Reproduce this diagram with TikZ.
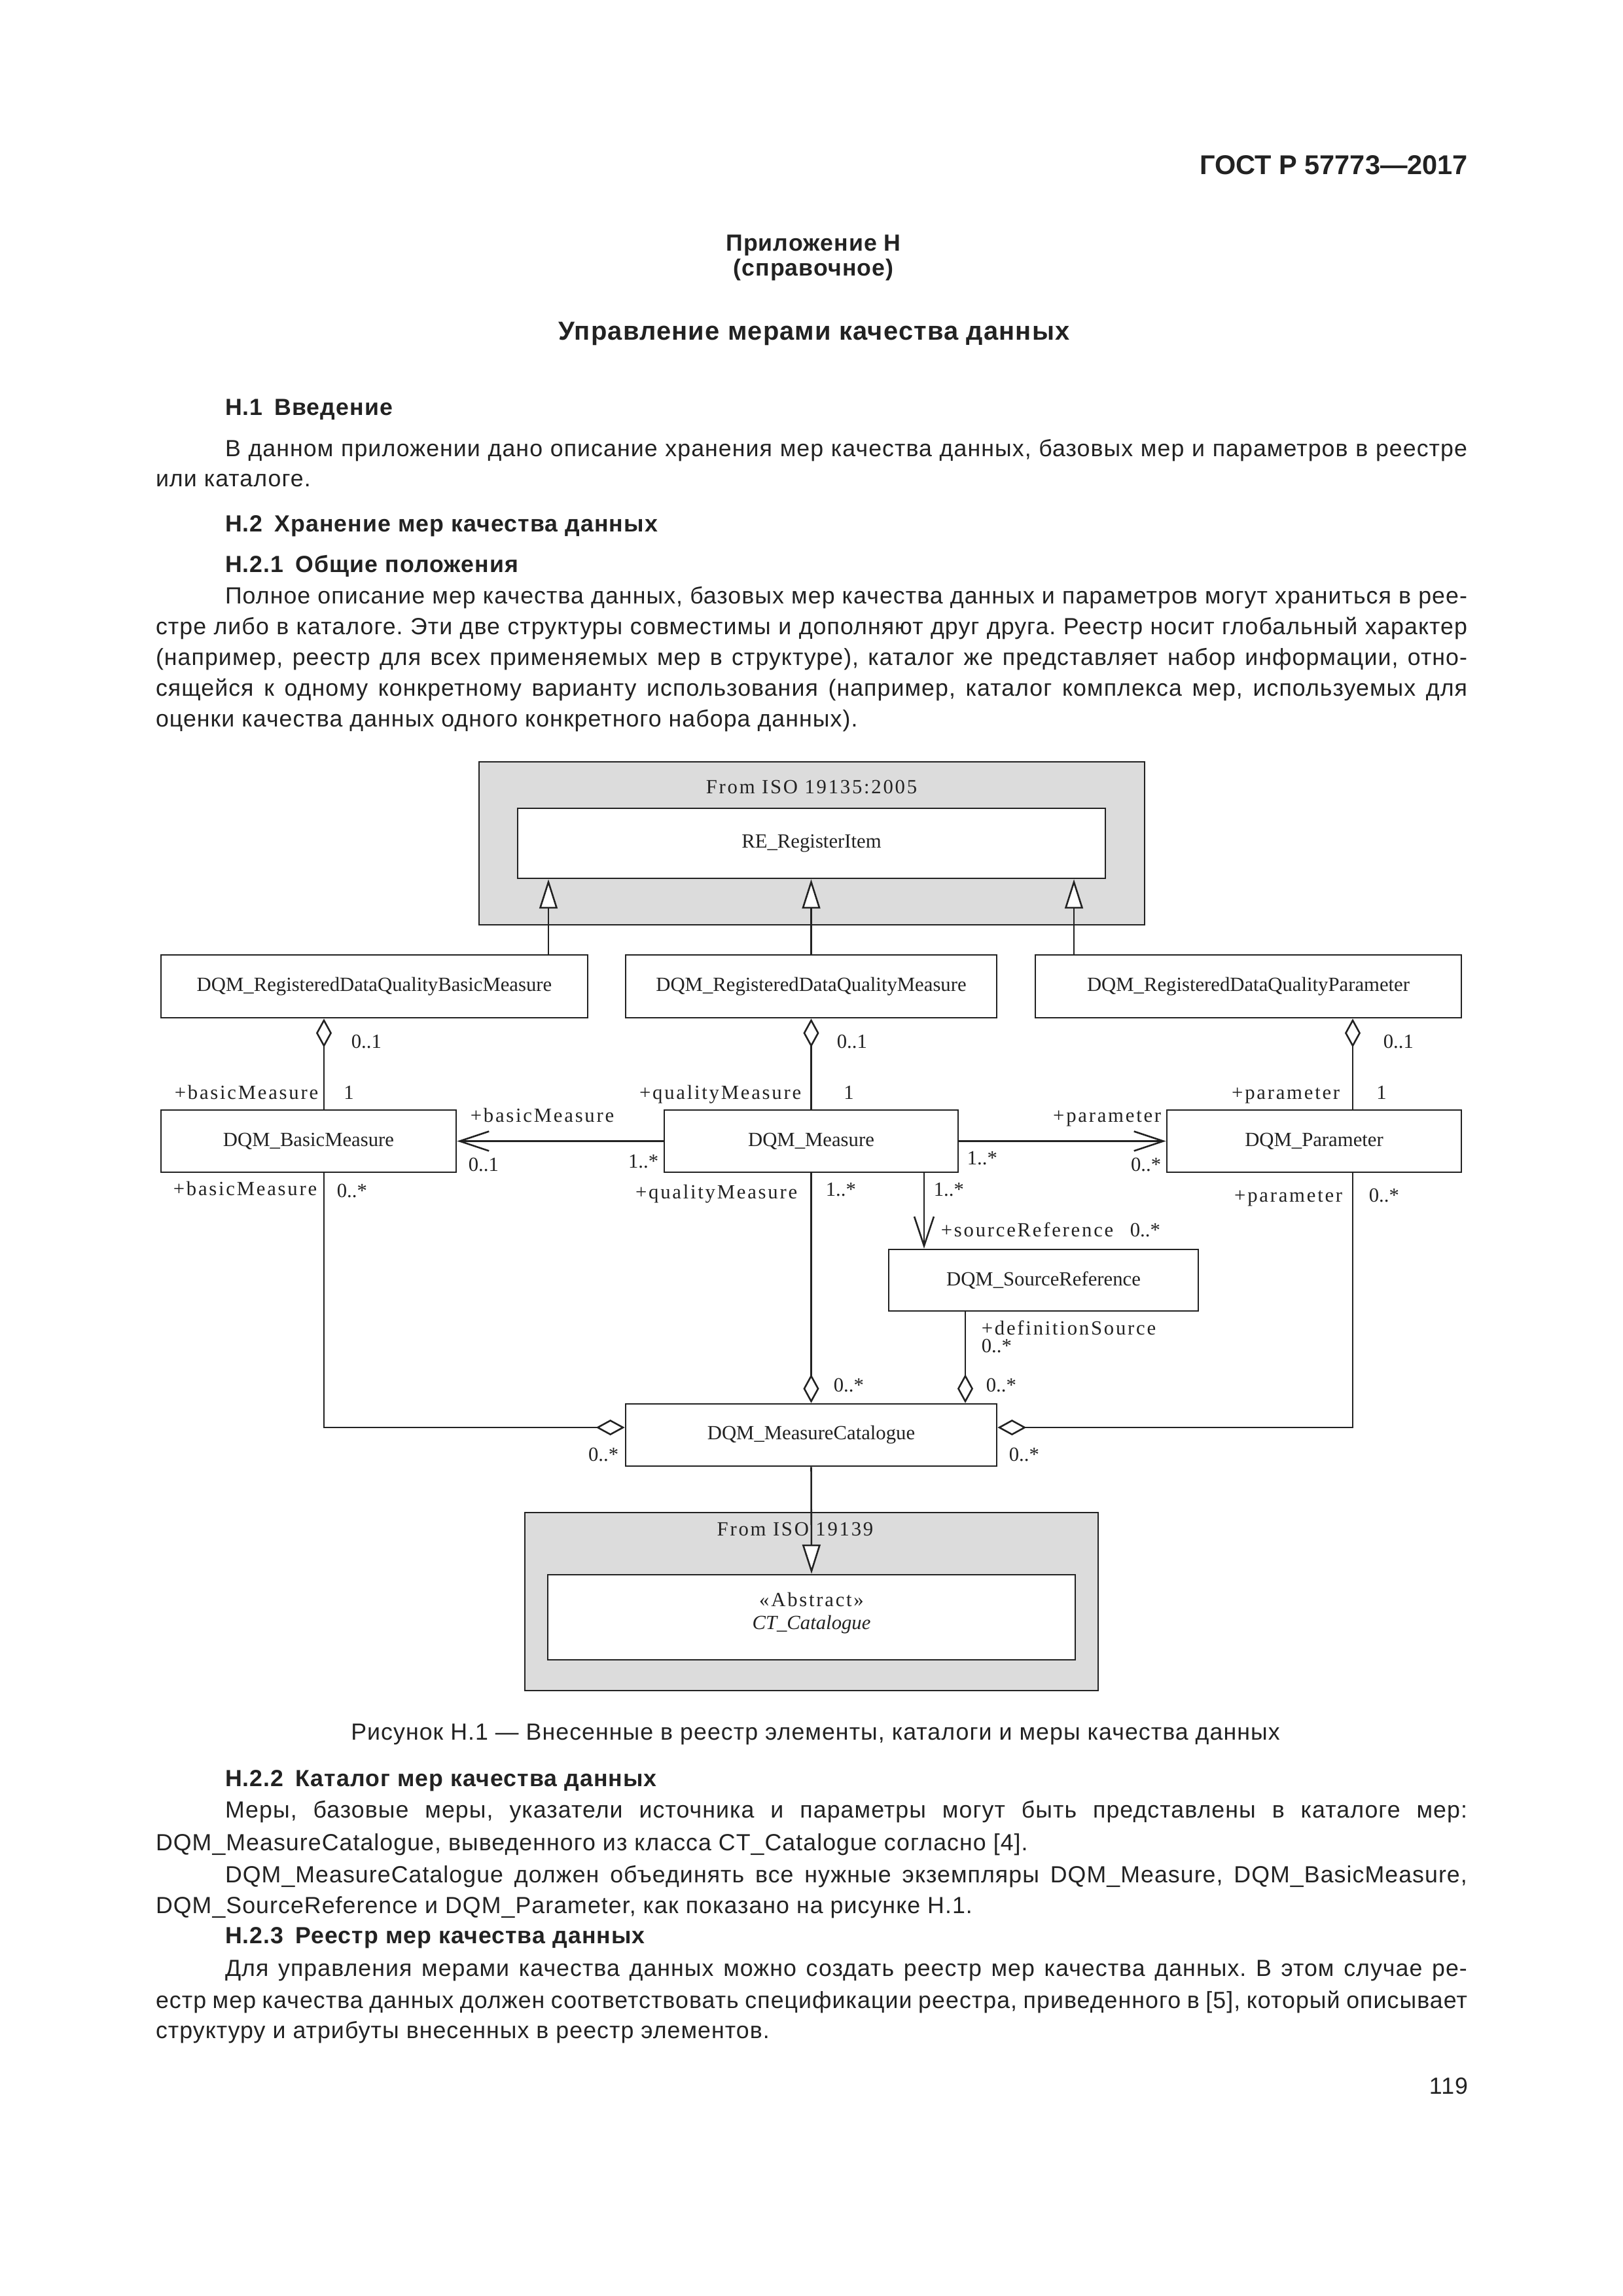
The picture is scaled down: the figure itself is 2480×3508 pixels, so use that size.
\documentclass[tikz,border=0pt]{standalone}
\usepackage{fontspec}
\usetikzlibrary{arrows.meta,calc}
\setmainfont{Liberation Sans}
\newfontfamily\bodyfont{Liberation Sans}[LetterSpace=3]
\newfontfamily\dgfont{Liberation Serif}
\newfontfamily\dgsp{Liberation Serif}[LetterSpace=9]
\newdimen\px \px=0.0846774mm
\newcommand\bodysize{\fontsize{8.6}{10.3}\selectfont}
\newcommand\dgsize{\fontsize{7.4}{9}\selectfont}
\definecolor{boxgray}{HTML}{DCDCDC}
\definecolor{ink}{HTML}{222222}
\frenchspacing
\tikzset{
  txt/.style={inner sep=0pt, outer sep=0pt, text=ink, font=\bodyfont\bodysize\frenchspacing},
  ln/.style={txt, anchor=base west},
  hd/.style={txt, anchor=base west, font=\bodyfont\bodysize\bfseries},
  cls/.style={draw=ink, line width=0.65pt, fill=white, inner sep=0pt, font=\dgfont\dgsize, text=ink},
  pkg/.style={draw=ink, line width=0.65pt, fill=boxgray, inner sep=0pt},
  role/.style={inner sep=0pt, font=\dgsp\dgsize, text=ink, text height=4.6pt, text depth=0pt},
  mult/.style={inner sep=0pt, font=\dgfont\dgsize, text=ink, text height=4.6pt, text depth=0pt},
  conn/.style={draw=ink, line width=0.62pt},
  agg/.style={conn, {Diamond[fill=white,length=10.6pt,width=5.8pt]}-},
  gen/.style={conn, -{Triangle[fill=white,length=10.8pt,width=6.7pt]}},
  nav/.style={conn, -{Straight Barb[length=10.8pt,width=7.2pt]}}
}
\begin{document}
\frenchspacing
\begin{tikzpicture}[x=0.0846774mm, y=-0.0846774mm]
\path[use as bounding box, fill=white] (0,0) rectangle (2480,3508);

% ---------- upper text ----------
\node[txt, anchor=base east, font=\fontsize{10}{12}\selectfont\bfseries] (gost) at (2243,266) {ГОСТ Р 57773—2017};
\node[txt, anchor=base, font=\bodyfont\bodysize\bfseries] (app) at (1243,383) {Приложение Н};
\node[txt, anchor=base, font=\bodyfont\bodysize\bfseries] (ref) at (1243,421) {(справочное)};
\node[txt, anchor=base, font=\bodyfont\fontsize{9.6}{12}\selectfont\bfseries] (title) at (1244,519) {Управление мерами качества данных};
\node[hd] (h1) at (344,634) {Н.1\enspace Введение};
\node[ln] (p1a) at (344,697) {\makebox[1898\px][s]{В данном приложении дано описание хранения мер качества данных, базовых мер и параметров в реестре}};
\node[ln] (p1b) at (238,743) {или каталоге.};
\node[hd] (h2) at (344,812) {Н.2\enspace Хранение мер качества данных};
\node[hd] (h21) at (344,874) {Н.2.1\enspace Общие положения};
\node[ln] (p2a) at (344,922) {\makebox[1898\px][s]{Полное описание мер качества данных, базовых мер качества данных и параметров могут храниться в рее-}};
\node[ln] (p2b) at (238,969) {\makebox[2004\px][s]{стре либо в каталоге. Эти две структуры совместимы и дополняют друг друга. Реестр носит глобальный характер}};
\node[ln] (p2c) at (238,1016) {\makebox[2004\px][s]{(например, реестр для всех применяемых мер в структуре), каталог же представляет набор информации, отно-}};
\node[ln] (p2d) at (238,1063) {\makebox[2004\px][s]{сящейся к одному конкретному варианту использования (например, каталог комплекса мер, используемых для}};
\node[ln] (p2e) at (238,1110) {оценки качества данных одного конкретного набора данных).};

% ---------- diagram nodes ----------
\node[pkg, minimum width=1017\px, minimum height=249\px] (pk1) at (1240.5,1288.5) {};
\node[role] (pk1t) at (1240,1203) {From ISO 19135:2005};
\node[cls, minimum width=898\px, minimum height=107\px] (re) at (1240,1288.5) {RE\_RegisterItem};
\node[cls, minimum width=652\px, minimum height=96\px] (rb) at (572,1507) {DQM\_RegisteredDataQualityBasicMeasure};
\node[cls, minimum width=567\px, minimum height=96\px] (rm) at (1239.5,1507) {DQM\_RegisteredDataQualityMeasure};
\node[cls, minimum width=651\px, minimum height=96\px] (rp) at (1907.5,1507) {DQM\_RegisteredDataQualityParameter};
\node[cls, minimum width=451\px, minimum height=95\px] (bm) at (471.5,1743.5) {DQM\_BasicMeasure};
\node[cls, minimum width=449\px, minimum height=95\px] (ms) at (1239.5,1743.5) {DQM\_Measure};
\node[cls, minimum width=450\px, minimum height=95\px] (pm) at (2008,1743.5) {DQM\_Parameter};
\node[cls, minimum width=473\px, minimum height=94\px] (sr) at (1594.5,1956) {DQM\_SourceReference};
\node[cls, minimum width=567\px, minimum height=95\px] (mc) at (1239.5,2192.5) {DQM\_MeasureCatalogue};
\node[pkg, minimum width=876\px, minimum height=272\px] (pk2) at (1240,2447) {};
\node[role] (pk2t) at (1215,2337) {From ISO 19139};
\node[cls, minimum width=806\px, minimum height=130\px] (ct) at (1240,2471) {};
\node[role] (ctst) at (1240,2445) {«Abstract»};
\node[mult, font=\dgfont\dgsize\itshape] (ctn) at (1240,2480) {CT\_Catalogue};

% ---------- helper coordinates ----------
\coordinate (xg1) at (838,0);
\coordinate (xg3) at (1641,0);
\coordinate (xa1) at (495,0);
\coordinate (xa3) at (2067,0);
\coordinate (xn) at (1412,0);
\coordinate (xd) at (1475,0);
\coordinate (yc) at (0,2181);

% ---------- connectors ----------
\draw[gen] (rb.north -| xg1) -- (re.south -| xg1);
\draw[gen] (rm.north) -- (re.south -| rm.north);
\draw[gen] (rp.north -| xg3) -- (re.south -| xg3);
\draw[agg] (rb.south -| xa1) -- (bm.north -| xa1);
\draw[agg] (rm.south) -- (ms.north);
\draw[agg] (rp.south -| xa3) -- (pm.north -| xa3);
\draw[nav] (ms.west) -- (bm.east);
\draw[nav] (ms.east) -- (pm.west);
\draw[nav] (ms.south -| xn) -- (sr.north -| xn);
\draw[agg] (mc.west |- yc) -| (bm.south -| xa1);
\draw[agg] (mc.north) -- (ms.south);
\draw[agg] (mc.north -| xd) -- (sr.south -| xd);
\draw[agg] (mc.east |- yc) -| (pm.south -| xa3);
\draw[gen] (mc.south) -- (ct.north);

% ---------- connector labels ----------
\node[mult, anchor=west] (m1) at (536,1592) {0..1};
\node[mult, anchor=west] (m2) at (1278,1592) {0..1};
\node[mult, anchor=west] (m3) at (2113,1592) {0..1};
\node[role, anchor=east] (r1) at (487,1670) {+basicMeasure};
\node[mult] (m4) at (533,1670) {1};
\node[role, anchor=east] (r2) at (1225,1670) {+qualityMeasure};
\node[mult] (m5) at (1297,1670) {1};
\node[role, anchor=east] (r3) at (2048,1670) {+parameter};
\node[mult] (m6) at (2111,1670) {1};
\node[role, anchor=west] (r4) at (718,1705) {+basicMeasure};
\node[mult, anchor=west] (m7) at (715,1780) {0..1};
\node[mult, anchor=east] (m8) at (1007,1775) {1..*};
\node[role, anchor=east] (r5) at (1775,1705) {+parameter};
\node[mult, anchor=west] (m9) at (1477,1770) {1..*};
\node[mult, anchor=east] (m10) at (1775,1780) {0..*};
\node[role, anchor=east] (r6) at (485,1817) {+basicMeasure};
\node[mult, anchor=west] (m11) at (514,1820) {0..*};
\node[role, anchor=east] (r7) at (1219,1822) {+qualityMeasure};
\node[mult, anchor=west] (m12) at (1261,1818) {1..*};
\node[mult, anchor=west] (m13) at (1426,1818) {1..*};
\node[role, anchor=east] (r8) at (2052,1827) {+parameter};
\node[mult, anchor=west] (m14) at (2091,1827) {0..*};
\node[role, anchor=west] (r9) at (1437,1880) {+sourceReference};
\node[mult, anchor=west] (m15) at (1726,1880) {0..*};
\node[role, anchor=west] (r10) at (1499,2030) {+definitionSource};
\node[mult, anchor=west] (m16) at (1499,2057) {0..*};
\node[mult, anchor=west] (m17) at (1273,2117) {0..*};
\node[mult, anchor=west] (m18) at (1506,2117) {0..*};
\node[mult, anchor=east] (m19) at (946,2223) {0..*};
\node[mult, anchor=west] (m20) at (1541,2223) {0..*};

% ---------- lower text ----------
\node[txt, anchor=base] (cap) at (1246,2658) {Рисунок Н.1 — Внесенные в реестр элементы, каталоги и меры качества данных};
\node[hd] (h22) at (344,2729) {Н.2.2\enspace Каталог мер качества данных};
\node[ln] (q1) at (344,2777) {\makebox[1898\px][s]{Меры, базовые меры, указатели источника и параметры могут быть представлены в каталоге мер:}};
\node[ln] (q2) at (238,2827) {DQM\_MeasureCatalogue, выведенного из класса CT\_Catalogue согласно [4].};
\node[ln] (q3) at (344,2876) {\makebox[1898\px][s]{DQM\_MeasureCatalogue должен объединять все нужные экземпляры DQM\_Measure, DQM\_BasicMeasure,}};
\node[ln] (q4) at (238,2923) {DQM\_SourceReference и DQM\_Parameter, как показано на рисунке Н.1.};
\node[hd] (h23) at (344,2969) {Н.2.3\enspace Реестр мер качества данных};
\node[ln] (q5) at (344,3019) {\makebox[1898\px][s]{Для управления мерами качества данных можно создать реестр мер качества данных. В этом случае ре-}};
\node[ln] (q6) at (238,3068) {\makebox[2004\px][s]{естр мер качества данных должен соответствовать спецификации реестра, приведенного в [5], который описывает}};
\node[ln] (q7) at (238,3114) {структуру и атрибуты внесенных в реестр элементов.};
\node[txt, anchor=base east] (pg) at (2243,3199) {119};
\end{tikzpicture}
\end{document}
